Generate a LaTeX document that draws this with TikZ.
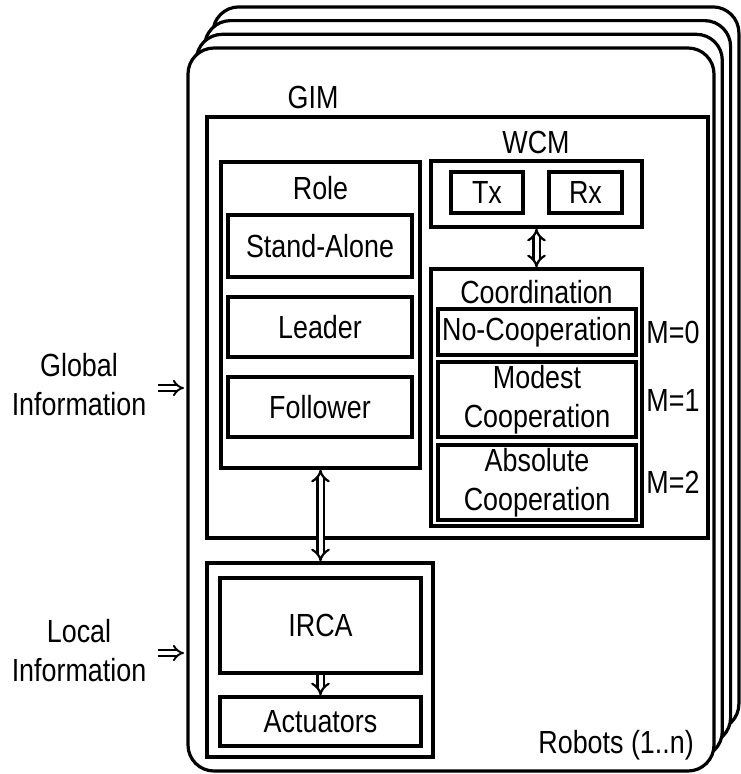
\documentclass[tikz,border=0pt]{standalone}
\usepackage{fontspec}
\setmainfont{Liberation Sans}[FakeStretch=0.84]
\usetikzlibrary{arrows.meta}

\begin{document}
\begin{tikzpicture}[x=1pt, y=-1pt,
    every node/.style={font=\fontsize{32}{39}\selectfont, align=center, inner sep=0pt},
    box/.style={draw, line width=3.2pt, rectangle},
    frame/.style={draw, line width=3.2pt, fill=white, rounded corners=26pt},
    hollow/.style={double, line width=2.2pt, double distance=4pt, -{Implies}},
    hollowboth/.style={double, line width=2.2pt, double distance=4pt, {Implies}-{Implies}}]
    \useasboundingbox (0,0) rectangle (741,774);

    % robots (1..n), back to front
    \foreach \k in {3,2,1,0}{
        \draw[frame] (188+8.3*\k, 48-13.7*\k) rectangle (714+8.3*\k, 771-13.7*\k);
    }

    % GIM
    \node[box, minimum width=501pt, minimum height=421pt] (gim) at (457.5,327.5) {};
    \node (gimlabel) at (313,97) {GIM};

    % role
    \node[box, minimum width=199pt, minimum height=306pt] (role) at (320.5,315) {};
    \node (rolelabel) at (320.5,188) {Role};
    \node[box, minimum width=184pt, minimum height=62pt] (standalone) at (320,246) {Stand-Alone};
    \node[box, minimum width=184pt, minimum height=60pt] (leader) at (320,327) {Leader};
    \node[box, minimum width=184pt, minimum height=60pt] (follower) at (320,407) {Follower};

    % WCM
    \node (wcmlabel) at (536,142) {WCM};
    \node[box, minimum width=211pt, minimum height=66pt] (wcm) at (536.5,194) {};
    \node[box, minimum width=72pt, minimum height=41pt] (tx) at (487,192.5) {Tx};
    \node[box, minimum width=73pt, minimum height=41pt] (rx) at (585.5,192.5) {Rx};

    % coordination
    \node[box, minimum width=211pt, minimum height=257pt] (coord) at (536.5,397.5) {};
    \node (coordlabel) at (536.5,292) {Coordination};
    \node[box, minimum width=198pt, minimum height=46pt] (nocoop) at (537,332) {No-Cooperation};
    \node[box, minimum width=198pt, minimum height=75pt] (modest) at (537,399.5) {Modest\\Cooperation};
    \node[box, minimum width=198pt, minimum height=75pt] (absolute) at (537,482.5) {Absolute\\Cooperation};
    \node (m0) at (673,332) {M=0};
    \node (m1) at (673,400) {M=1};
    \node (m2) at (673,482) {M=2};

    % local part
    \node[box, minimum width=226pt, minimum height=194pt] (local) at (320,660) {};
    \node[box, minimum width=201pt, minimum height=95pt] (irca) at (320.5,625.5) {IRCA};
    \node[box, minimum width=201pt, minimum height=49pt] (act) at (320.5,721.5) {Actuators};
    \node[anchor=east] (robots) at (694,745) {Robots (1..n)};

    % inputs
    \node (global) at (79,385) {Global\\Information};
    \node (localinfo) at (79,651) {Local\\Information};
    \coordinate (g1) at (158,388);
    \coordinate (g2) at (184,388);
    \coordinate (l1) at (158,653);
    \coordinate (l2) at (184,653);
    \draw[hollow, line width=1.9pt, double distance=3.5pt] (g1) -- (g2);
    \draw[hollow, line width=1.9pt, double distance=3.5pt] (l1) -- (l2);

    \draw[hollowboth] (role.south) -- (role.south |- local.north);
    \draw[hollowboth] (wcm.south) -- (coord.north);
    \draw[hollow] (irca.south) -- (act.north);

\end{tikzpicture}
\end{document}
